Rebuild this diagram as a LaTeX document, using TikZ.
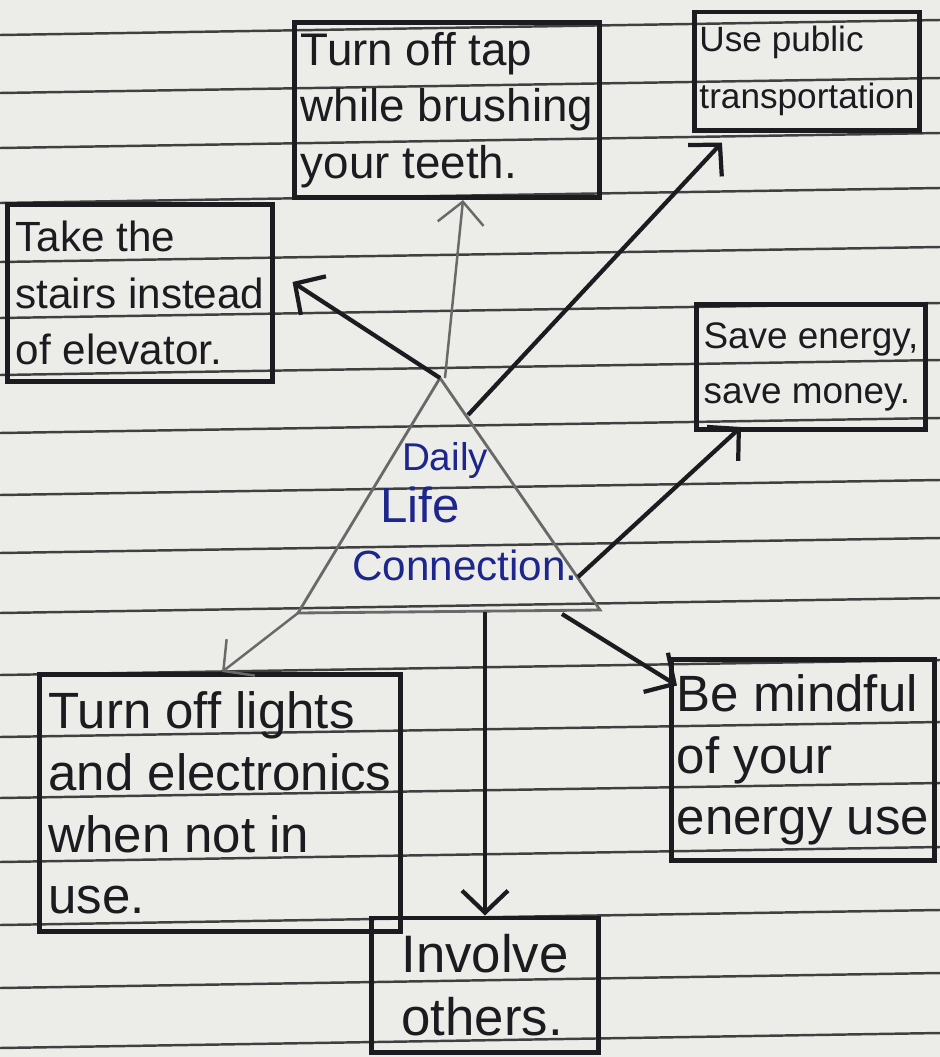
\documentclass[tikz,border=0pt]{standalone}
\usepackage{fontspec}
\setmainfont{Liberation Sans}
\usepackage{xcolor}
\usetikzlibrary{arrows.meta}

\definecolor{paper}{RGB}{236,236,233}
\definecolor{ink}{RGB}{28,28,32}
\definecolor{pencil}{RGB}{105,105,105}
\definecolor{blueink}{RGB}{28,38,140}

\begin{document}
\begin{tikzpicture}[x=0.01cm,y=-0.01cm,
    rule/.style={black!75,line width=0.7pt},
    box/.style={draw=ink,line width=1.4pt,inner sep=0pt,align=left,text=ink},
    arr/.style={-{Straight Barb[length=2.2mm,width=4.6mm]},ink,line width=1.2pt},
    thinarr/.style={-{Straight Barb[length=2.2mm,width=4.6mm]},pencil,line width=0.7pt},
    bluetext/.style={text=blueink,inner sep=0pt}]
    \fill[paper] (0,0) rectangle (940,1057);
    \useasboundingbox (0,0) rectangle (940,1057);
    % ruled paper
    \foreach \y in {35,93,148,203,262,318,375,433,495,553,613,675,737,798,862,925,988,1048}
      \draw[rule] (0,\y) -- (940,\y-15);
    % boxes
    \node[box,minimum width=3.05cm,minimum height=1.75cm,font=\fontsize{13}{16}\selectfont] (tap) at (447,110)
      {Turn off tap\\while brushing\\your teeth.};
    \node[box,minimum width=2.25cm,minimum height=1.18cm,font=\fontsize{10}{16}\selectfont] (bus) at (807,71)
      {Use public\\transportation};
    \node[box,minimum width=2.64cm,minimum height=1.77cm,font=\fontsize{12}{16}\selectfont] (stairs) at (140,293)
      {Take the\\stairs instead\\of elevator.};
    \node[box,minimum width=2.28cm,minimum height=1.25cm,font=\fontsize{10.5}{15.5}\selectfont] (money) at (811,367)
      {Save energy,\\save money.};
    \node[box,minimum width=3.6cm,minimum height=2.57cm,font=\fontsize{14.5}{17.5}\selectfont] (lights) at (220,803)
      {Turn off lights\\and electronics\\when not in\\use.};
    \node[box,minimum width=2.63cm,minimum height=2cm,font=\fontsize{14.5}{17.5}\selectfont] (mindful) at (803,760)
      {Be mindful\\of your\\energy use};
    \node[box,minimum width=2.26cm,minimum height=1.34cm,font=\fontsize{15}{18}\selectfont] (others) at (485,985)
      {Involve\\others.};
    % triangle in the middle
    \coordinate (apex) at (440,378);
    \coordinate (baseL) at (298,613);
    \coordinate (baseR) at (600,610);
    \draw[pencil,line width=0.8pt] (apex) -- (baseR) -- (baseL) -- cycle;
    \node[bluetext,font=\fontsize{11}{13}\selectfont] (daily) at (445,460) {Daily};
    \node[bluetext,font=\fontsize{14}{16}\selectfont] (life) at (420,505) {Life};
    \node[bluetext,font=\fontsize{12}{14}\selectfont] (conn) at (465,565) {Connection.};
    % arrows out of the triangle
    \coordinate (upStart) at (445,378);
    \coordinate (busStart) at (468,415);
    \coordinate (moneyStart) at (578,577);
    \coordinate (mindStart) at (562,614);
    \coordinate (othersStart) at (485,612);
    \draw[arr] (apex) -- ([xshift=0.18cm,yshift=0.11cm]stairs.east);
    \draw[thinarr] (upStart) -- ([xshift=0.16cm]tap.south);
    \draw[arr] (busStart) -- ([xshift=-0.85cm,yshift=-0.1cm]bus.south);
    \draw[arr] (moneyStart) -- ([xshift=-0.7cm,yshift=0.05cm]money.south);
    \draw[arr] (mindStart) -- ([xshift=0.08cm,yshift=-0.28cm]mindful.north west);
    \draw[arr] (othersStart) -- (othersStart |- others.north);
    \draw[thinarr] (baseL) -- ([xshift=0.02cm]lights.north);
\end{tikzpicture}
\end{document}
